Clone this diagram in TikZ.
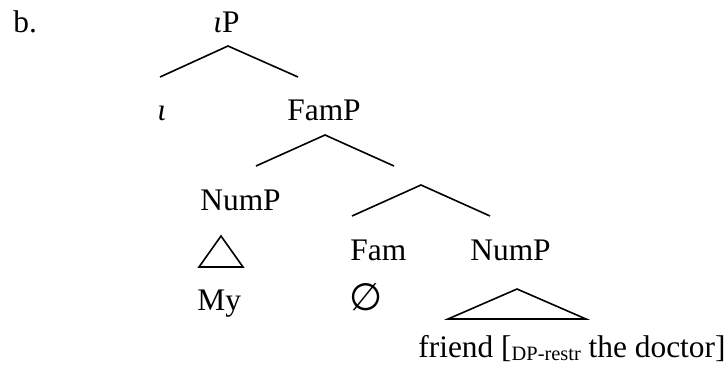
\documentclass[tikz,border=0pt]{standalone}
\usepackage{fontspec}
\setmainfont{Liberation Serif}
\newfontfamily\symfont{DejaVu Sans}
\begin{document}
\begin{tikzpicture}[x=0.5pt,y=-0.5pt,
  lbl/.style={anchor=base west, inner sep=0pt, font=\fontsize{15.7}{18}\selectfont},
  edge/.style={line width=0.8pt, line join=miter}]
\useasboundingbox (0,0) rectangle (726,370);
% labels
\node[lbl] (ex) at (13,32) {b.};
\node[lbl] (iP) at (213,32) {\textit{ι}P};
\node[lbl] (iota) at (157,120) {\textit{ι}};
\node[lbl] (FamP) at (287,120) {FamP};
\node[lbl] (NumPa) at (200,210) {NumP};
\node[lbl] (Fam) at (350,260) {Fam};
\node[lbl] (NumPb) at (470,260) {NumP};
\node[lbl] (My) at (197,310) {My};
\node[lbl] (empty) at (349,310) {{\symfont\fontsize{19}{20}\selectfont ∅}};
\node[lbl] (friend) at (418,357) {friend [\raisebox{-1.5pt}{\fontsize{10.2}{12}\selectfont DP-restr} the doctor]};
% branch points
\coordinate (a1) at (228,46);  \coordinate (l1) at (160,77);  \coordinate (r1) at (298,77);
\coordinate (a2) at (325,135); \coordinate (l2) at (256,166); \coordinate (r2) at (394,166);
\coordinate (a3) at (421,185); \coordinate (l3) at (352,216); \coordinate (r3) at (490,216);
\coordinate (t1a) at (221,236); \coordinate (t1l) at (199,267); \coordinate (t1r) at (243,267);
\coordinate (t2a) at (517,289); \coordinate (t2l) at (448,319); \coordinate (t2r) at (586,319);
\draw[edge] (l1) -- (a1) -- (r1);
\draw[edge] (l2) -- (a2) -- (r2);
\draw[edge] (l3) -- (a3) -- (r3);
\draw[edge] (t1a) -- (t1l) -- (t1r) -- cycle;
\draw[edge] (t2a) -- (t2l) -- (t2r) -- cycle;
\end{tikzpicture}
\end{document}
